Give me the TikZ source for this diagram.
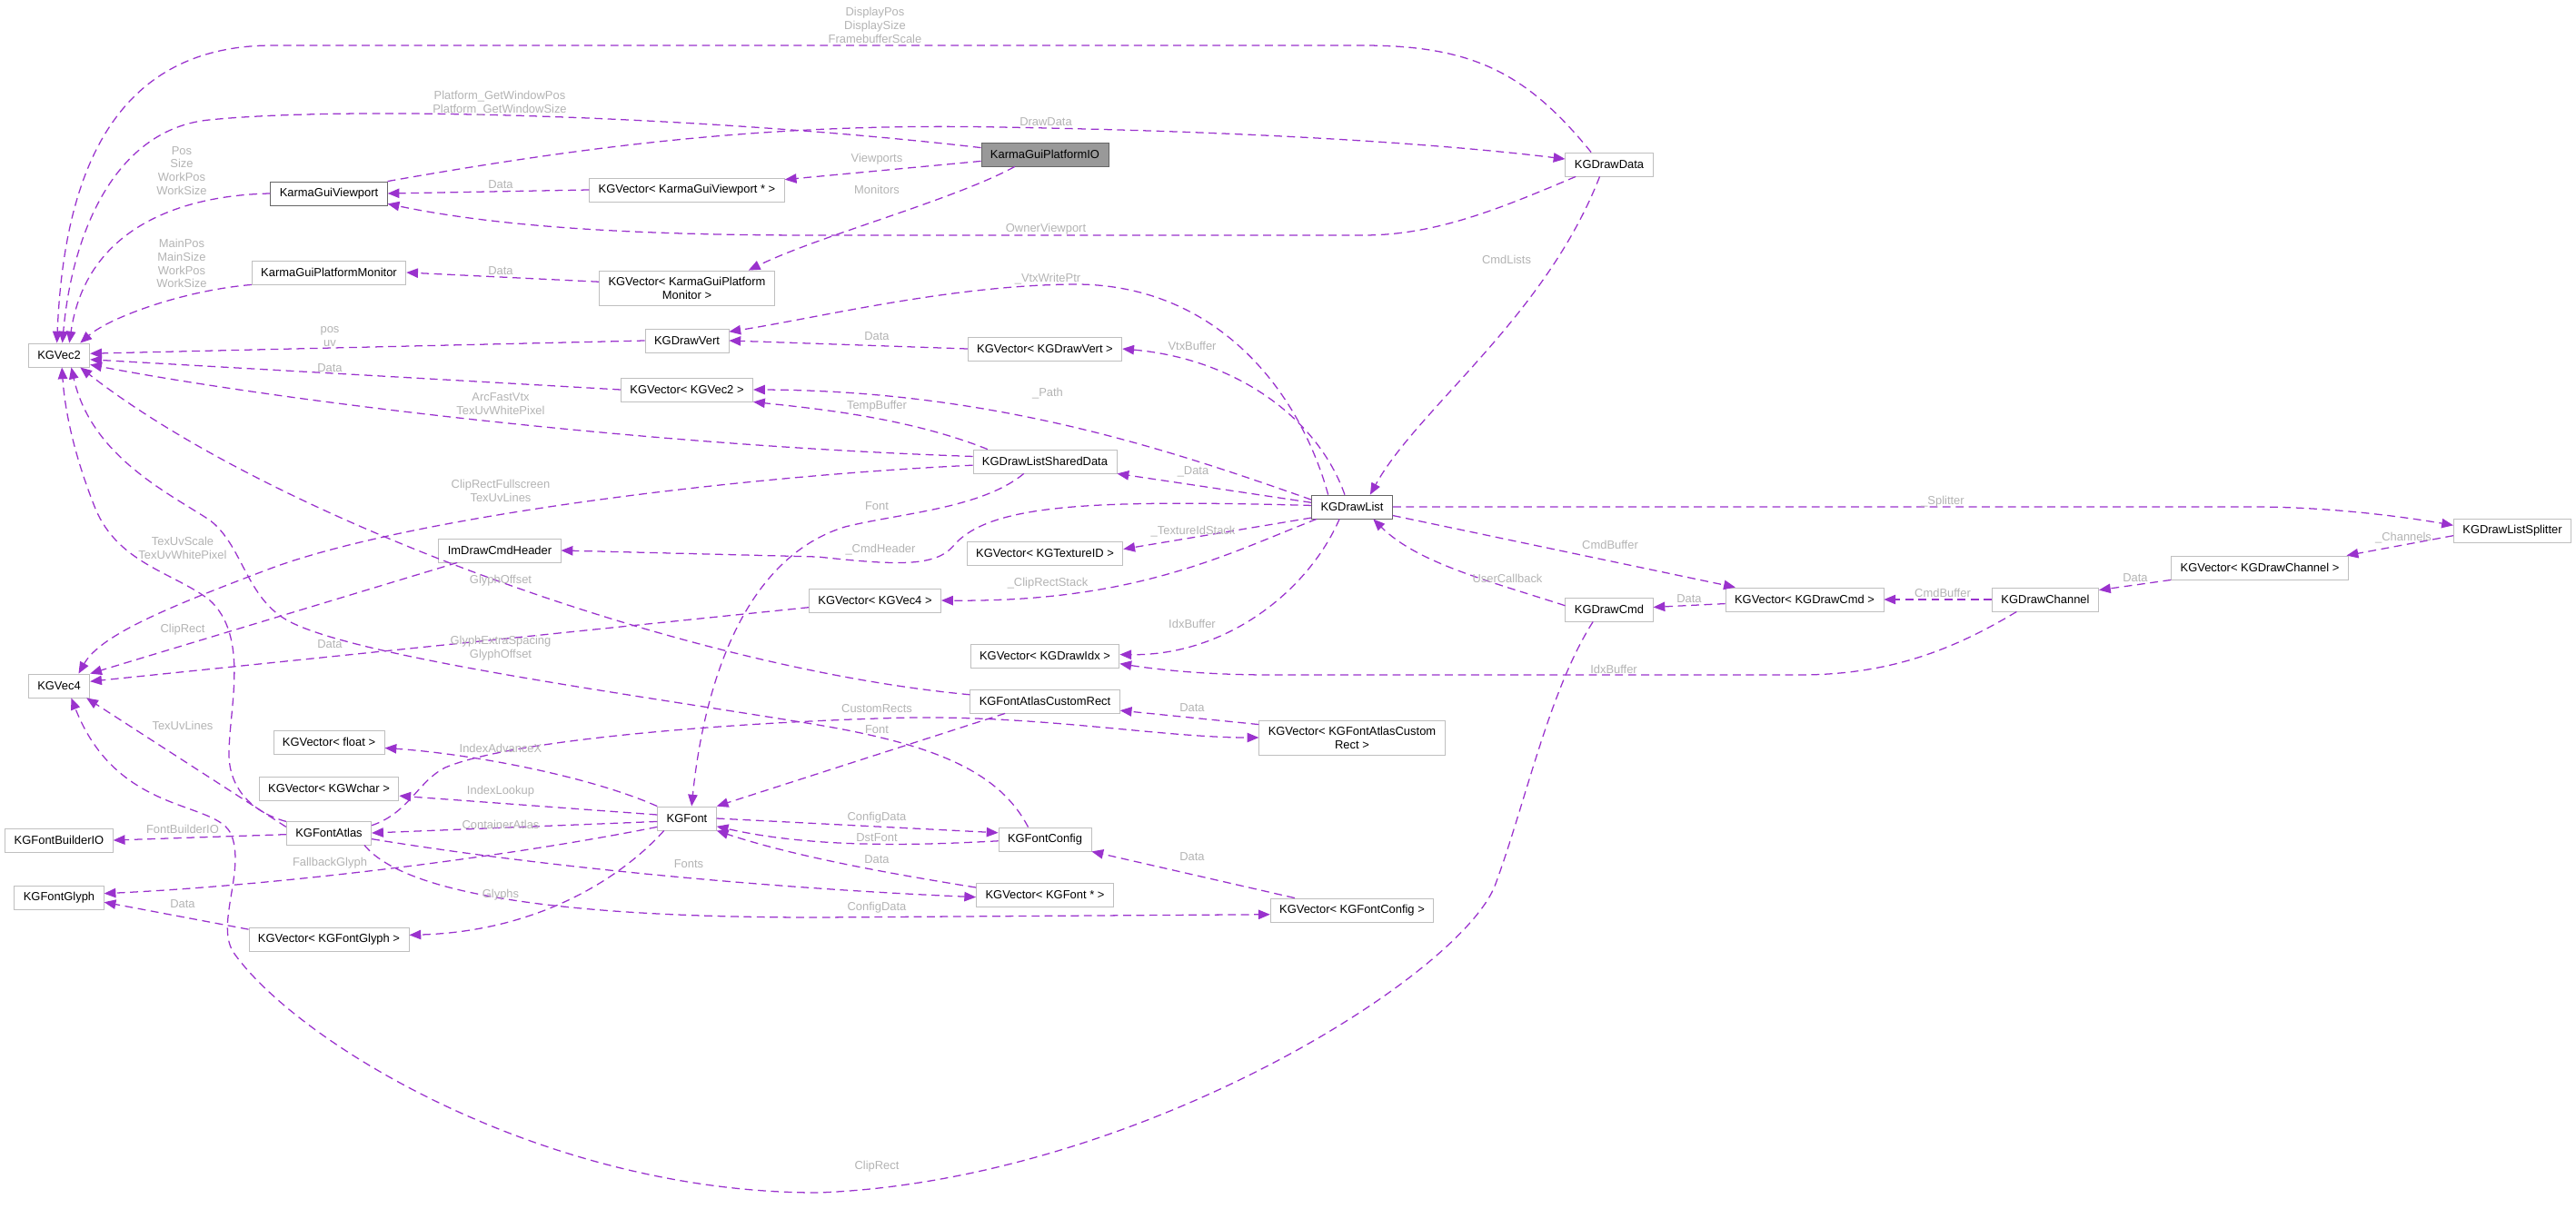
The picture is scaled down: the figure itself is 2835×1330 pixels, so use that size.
\documentclass[tikz,border=0pt]{standalone}
\usepackage{fontspec}
\setmainfont{Liberation Sans}
\usetikzlibrary{arrows.meta}
\definecolor{edgepurple}{HTML}{9A32CD}
\definecolor{boxgray}{HTML}{BFBFBF}
\definecolor{labelgray}{HTML}{B3B3B3}
\tikzset{
  classbox/.style={draw=boxgray, line width=0.6pt, fill=white, font=\fontsize{9.2}{10.6}\selectfont, inner xsep=0.25cm, inner ysep=0.17cm, minimum height=0.65cm, align=center},
  darkbox/.style={classbox, draw=black!60},
  rootbox/.style={classbox, draw=black!60, fill=black!40},
  useedge/.style={-{Triangle[length=0.32cm,width=0.26cm]}, edgepurple, line width=0.9pt, dash pattern=on 0.22cm off 0.14cm},
  edgelabel/.style={text=labelgray, font=\fontsize{9.2}{10.6}\selectfont, align=center, inner sep=0pt}
}
\begin{document}
\begin{tikzpicture}[x=0.025cm, y=-0.025cm]
\useasboundingbox (0,0) rectangle (2835,1330);

% classes
\node[rootbox] (pio) at (1150,170) {KarmaGuiPlatformIO};
\node[classbox] (drawdata) at (1771,181) {KGDrawData};
\node[darkbox] (viewport) at (362,213) {KarmaGuiViewport};
\node[classbox] (vecviewport) at (756,209) {KGVector< KarmaGuiViewport * >};
\node[classbox] (monitor) at (362,300) {KarmaGuiPlatformMonitor};
\node[classbox] (vecmonitor) at (756,317) {KGVector< KarmaGuiPlatform\\Monitor >};
\node[classbox] (vec2) at (65,391) {KGVec2};
\node[classbox] (drawvert) at (756,375) {KGDrawVert};
\node[classbox] (vecdrawvert) at (1150,384) {KGVector< KGDrawVert >};
\node[classbox] (vecvec2) at (756,429) {KGVector< KGVec2 >};
\node[classbox] (shared) at (1150,508) {KGDrawListSharedData};
\node[darkbox] (drawlist) at (1488,558) {KGDrawList};
\node[classbox] (splitter) at (2765,584) {KGDrawListSplitter};
\node[classbox] (cmdheader) at (550,606) {ImDrawCmdHeader};
\node[classbox] (vectexid) at (1150,609) {KGVector< KGTextureID >};
\node[classbox] (vecchannel) at (2487,625) {KGVector< KGDrawChannel >};
\node[classbox] (drawcmd) at (1771,671) {KGDrawCmd};
\node[classbox] (vecdrawcmd) at (1986,660) {KGVector< KGDrawCmd >};
\node[classbox] (channel) at (2251,660) {KGDrawChannel};
\node[classbox] (vecvec4) at (963,661) {KGVector< KGVec4 >};
\node[classbox] (vec4) at (65,755) {KGVec4};
\node[classbox] (vecdrawidx) at (1150,722) {KGVector< KGDrawIdx >};
\node[classbox] (customrect) at (1150,772) {KGFontAtlasCustomRect};
\node[classbox] (veccustomrect) at (1488,812) {KGVector< KGFontAtlasCustom\\Rect >};
\node[classbox] (vecfloat) at (362,817) {KGVector< float >};
\node[classbox] (vecwchar) at (362,868) {KGVector< KGWchar >};
\node[classbox] (atlas) at (362,917) {KGFontAtlas};
\node[classbox] (font) at (756,901) {KGFont};
\node[classbox] (builderio) at (65,925) {KGFontBuilderIO};
\node[classbox] (fontconfig) at (1150,924) {KGFontConfig};
\node[classbox] (fontglyph) at (65,988) {KGFontGlyph};
\node[classbox] (vecglyph) at (362,1034) {KGVector< KGFontGlyph >};
\node[classbox] (vecfont) at (1150,985) {KGVector< KGFont * >};
\node[classbox] (vecfontconfig) at (1488,1002) {KGVector< KGFontConfig >};

% platform io, viewport, draw data
\draw[useedge] (pio.174) .. controls (800,130) and (400,115) .. (230,132) .. controls (130,142) and (80,250) .. (vec2.75);
\draw[useedge] (viewport.north east) .. controls (650,160) and (850,135) .. (1100,140) .. controls (1400,145) and (1600,160) .. (drawdata.173);
\draw[useedge] (drawdata.146) .. controls (1680,80) and (1620,50) .. (1500,50) -- (300,50) .. controls (120,50) and (70,200) .. (vec2.100);
\draw[useedge] (drawdata.200) .. controls (1650,230) and (1580,259) .. (1500,259) -- (900,259) .. controls (700,259) and (550,250) .. (viewport.350);
\draw[useedge] (drawdata.232) .. controls (1700,350) and (1560,450) .. (drawlist.34);
\draw[useedge] (pio.186) -- (vecviewport.6);
\draw[useedge] (pio.202) .. controls (1050,220) and (900,260) .. (vecmonitor.16);
\draw[useedge] (viewport.west) .. controls (200,215) and (95,250) .. (vec2.50);
\draw[useedge] (vecviewport.west) -- (viewport.east);
\draw[useedge] (monitor.south west) .. controls (200,320) and (120,350) .. (vec2.30);
\draw[useedge] (vecmonitor.176) -- (monitor.east);

% draw list
\draw[useedge] (drawvert.west) -- (vec2.3);
\draw[useedge] (vecvec2.west) -- (vec2.352);
\draw[useedge] (shared.176) .. controls (700,490) and (300,440) .. (vec2.343);
\draw[useedge] (shared.168) .. controls (1000,460) and (900,450) .. (vecvec2.south east);
\draw[useedge] (shared.183) .. controls (800,525) and (450,570) .. (300,625) .. controls (180,670) and (110,700) .. (vec4.32);
\draw[useedge] (shared.210) .. controls (1080,560) and (990,565) .. (930,580) .. controls (800,620) and (770,800) .. (font.69);
\draw[useedge] (drawlist.153) .. controls (1430,430) and (1340,315) .. (1187,313) .. controls (1050,313) and (900,350) .. (drawvert.12);
\draw[useedge] (drawlist.121) .. controls (1450,460) and (1360,395) .. (vecdrawvert.east);
\draw[useedge] (vecdrawvert.west) -- (drawvert.east);
\draw[useedge] (drawlist.170) .. controls (1300,500) and (1100,430) .. (vecvec2.east);
\draw[useedge] (drawlist.174) -- (shared.south east);
\draw[useedge] (drawlist.178) .. controls (1200,550) and (1090,555) .. (1050,600) .. controls (1030,625) and (985,622) .. (900,613) -- (cmdheader.east);
\draw[useedge] (drawlist.195) -- (vectexid.3);
\draw[useedge] (drawlist.199) .. controls (1350,610) and (1250,663) .. (vecvec4.east);
\draw[useedge] (drawlist.224) .. controls (1440,650) and (1350,722) .. (vecdrawidx.1);
\draw[useedge] (drawlist.east) -- (2480,558) .. controls (2560,558) and (2640,568) .. (splitter.175);
\draw[useedge] (drawlist.348) -- (vecdrawcmd.170);
\draw[useedge] (drawcmd.175) .. controls (1640,640) and (1560,620) .. (drawlist.330);
\draw[useedge] (vecdrawcmd.183) -- (drawcmd.3);
\draw[useedge] (drawcmd.217) .. controls (1705,760) and (1680,880) .. (1646,973) .. controls (1610,1073) and (1250,1300) .. (900,1313) .. controls (600,1313) and (330,1150) .. (258,1050) .. controls (236,1020) and (270,960) .. (255,920) .. controls (240,880) and (130,900) .. (vec4.315);
\draw[useedge] (splitter.185) -- (vecchannel.8);
\draw[useedge] (vecchannel.south west) -- (channel.10);
\draw[useedge] (channel.west) -- (vecdrawcmd.east);
\draw[useedge] (channel.203) .. controls (2150,715) and (2080,743) .. (1980,743) -- (1400,743) .. controls (1330,743) and (1280,738) .. (vecdrawidx.354);
\draw[useedge] (cmdheader.196) -- (vec4.north east);
\draw[useedge] (vecvec4.186) -- (vec4.8);

% fonts
\draw[useedge] (fontconfig.144) .. controls (1100,850) and (1030,820) .. (900,798) .. controls (700,765) and (400,725) .. (320,685) .. controls (270,660) and (268,600) .. (230,572) .. controls (180,540) and (100,500) .. (vec2.315);
\draw[useedge] (customrect.175) .. controls (750,735) and (300,570) .. (vec2.330);
\draw[useedge] (atlas.165) .. controls (280,895) and (252,870) .. (252,830) .. controls (252,780) and (275,700) .. (230,660) .. controls (190,630) and (130,620) .. (105,560) .. controls (85,510) and (72,460) .. (vec2.283);
\draw[useedge] (atlas.172) -- (vec4.336);
\draw[useedge] (font.north west) .. controls (650,855) and (520,830) .. (vecfloat.354);
\draw[useedge] (font.173) -- (vecwchar.354);
\draw[useedge] (font.186) -- (atlas.east);
\draw[useedge] (font.196) .. controls (550,945) and (300,975) .. (fontglyph.5);
\draw[useedge] (font.208) .. controls (690,960) and (600,1025) .. (vecglyph.3);
\draw[useedge] (font.east) -- (fontconfig.172);
\draw[useedge] (fontconfig.182) .. controls (1020,930) and (900,935) .. (font.345);
\draw[useedge] (vecfont.174) .. controls (1000,965) and (880,945) .. (font.south east);
\draw[useedge] (atlas.352) .. controls (600,955) and (850,978) .. (vecfont.182);
\draw[useedge] (atlas.341) .. controls (450,990) and (650,1010) .. (900,1010) -- (vecfontconfig.183);
\draw[useedge] (atlas.10) .. controls (450,895) and (460,860) .. (490,845) .. controls (560,815) and (800,795) .. (1000,790) .. controls (1150,788) and (1280,812) .. (veccustomrect.west);
\draw[useedge] (veccustomrect.172) -- (customrect.353);
\draw[useedge] (customrect.197) -- (font.north east);
\draw[useedge] (vecfontconfig.168) -- (fontconfig.south east);
\draw[useedge] (vecglyph.173) -- (fontglyph.354);
\draw[useedge] (atlas.182) -- (builderio.east);

% edge labels
\node[edgelabel] (l-platform) at (550,114) {Platform\_GetWindowPos\\Platform\_GetWindowSize};
\node[edgelabel] (l-drawdata) at (1151,134) {DrawData};
\node[edgelabel] (l-display) at (963,28) {DisplayPos\\DisplaySize\\FramebufferScale};
\node[edgelabel] (l-viewports) at (965,175) {Viewports};
\node[edgelabel] (l-monitors) at (965,209) {Monitors};
\node[edgelabel] (l-owner) at (1151,252) {OwnerViewport};
\node[edgelabel] (l-cmdlists) at (1658,286) {CmdLists};
\node[edgelabel] (l-vppos) at (200,188) {Pos\\Size\\WorkPos\\WorkSize};
\node[edgelabel] (l-vpdata) at (551,203) {Data};
\node[edgelabel] (l-monpos) at (200,290) {MainPos\\MainSize\\WorkPos\\WorkSize};
\node[edgelabel] (l-mondata) at (551,298) {Data};
\node[edgelabel] (l-posuv) at (363,371) {pos\\uv};
\node[edgelabel] (l-v2data) at (363,405) {Data};
\node[edgelabel] (l-arcfast) at (551,445) {ArcFastVtx\\TexUvWhitePixel};
\node[edgelabel] (l-tempbuf) at (965,447) {TempBuffer};
\node[edgelabel] (l-cliprectfs) at (551,540) {ClipRectFullscreen\\TexUvLines};
\node[edgelabel] (l-shfont) at (965,557) {Font};
\node[edgelabel] (l-vtxwrite) at (1153,307) {\_VtxWritePtr};
\node[edgelabel] (l-vtxbuf) at (1312,381) {VtxBuffer};
\node[edgelabel] (l-dvdata) at (965,370) {Data};
\node[edgelabel] (l-path) at (1153,433) {\_Path};
\node[edgelabel] (l-data) at (1313,519) {\_Data};
\node[edgelabel] (l-cmdheader) at (969,605) {\_CmdHeader};
\node[edgelabel] (l-texid) at (1313,585) {\_TextureIdStack};
\node[edgelabel] (l-cliprs) at (1153,642) {\_ClipRectStack};
\node[edgelabel] (l-idxbuf) at (1312,687) {IdxBuffer};
\node[edgelabel] (l-splitter) at (2138,552) {\_Splitter};
\node[edgelabel] (l-cmdbuf) at (1772,600) {CmdBuffer};
\node[edgelabel] (l-usercb) at (1659,637) {UserCallback};
\node[edgelabel] (l-cmddata) at (1859,659) {Data};
\node[edgelabel] (l-cliprect) at (965,1284) {ClipRect};
\node[edgelabel] (l-channels) at (2645,592) {\_Channels};
\node[edgelabel] (l-chdata) at (2350,636) {Data};
\node[edgelabel] (l-chcmdbuf) at (2138,653) {CmdBuffer};
\node[edgelabel] (l-chidxbuf) at (1776,737) {IdxBuffer};
\node[edgelabel] (l-hdrclip) at (201,693) {ClipRect};
\node[edgelabel] (l-v4data) at (363,709) {Data};
\node[edgelabel] (l-glyphextra) at (551,714) {GlyphExtraSpacing\\GlyphOffset};
\node[edgelabel] (l-glyphoff) at (551,639) {GlyphOffset};
\node[edgelabel] (l-crdata) at (1312,779) {Data};
\node[edgelabel] (l-customrects) at (965,780) {CustomRects};
\node[edgelabel] (l-crfont) at (965,803) {Font};
\node[edgelabel] (l-texuvscale) at (201,603) {TexUvScale\\TexUvWhitePixel};
\node[edgelabel] (l-texuvlines) at (201,799) {TexUvLines};
\node[edgelabel] (l-advance) at (551,824) {IndexAdvanceX};
\node[edgelabel] (l-lookup) at (551,871) {IndexLookup};
\node[edgelabel] (l-container) at (551,908) {ContainerAtlas};
\node[edgelabel] (l-builder) at (201,913) {FontBuilderIO};
\node[edgelabel] (l-fallback) at (363,950) {FallbackGlyph};
\node[edgelabel] (l-glyphdata) at (201,995) {Data};
\node[edgelabel] (l-glyphs) at (551,985) {Glyphs};
\node[edgelabel] (l-configdata) at (965,900) {ConfigData};
\node[edgelabel] (l-dstfont) at (965,922) {DstFont};
\node[edgelabel] (l-fontdata) at (965,946) {Data};
\node[edgelabel] (l-fonts) at (758,951) {Fonts};
\node[edgelabel] (l-atlasconfig) at (965,999) {ConfigData};
\node[edgelabel] (l-fcdata) at (1312,943) {Data};
\end{tikzpicture}
\end{document}
